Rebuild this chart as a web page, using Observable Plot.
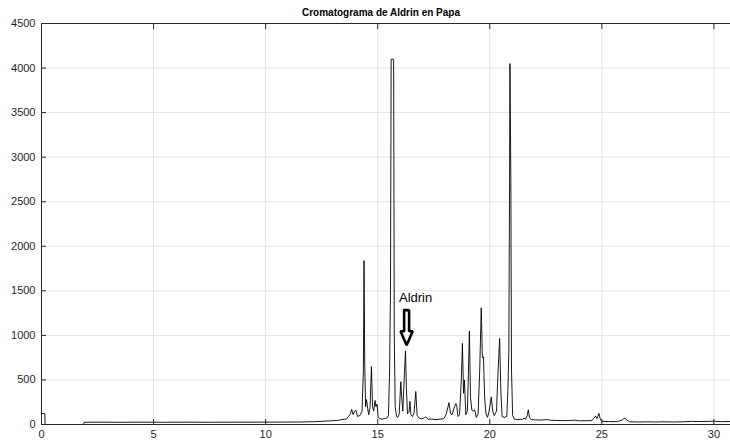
<!DOCTYPE html>
<html><head><meta charset="utf-8">
<script src="https://cdn.jsdelivr.net/npm/d3@7"></script>
<script src="https://cdn.jsdelivr.net/npm/@observablehq/plot@0.6"></script>
<style>body{margin:0;background:#fff}</style>
</head><body><div id="chart"></div>
<script>
const title = "Cromatograma de Aldrin en Papa";
const xTicks = [0, 5, 10, 15, 20, 25, 30];
const yTicks = [0, 500, 1000, 1500, 2000, 2500, 3000, 3500, 4000, 4500];

// retention time (min)
const time = [
  0, 0.15, 0.16, 1.88, 1.9, 2.5, 3.5, 4.5, 5.5, 6.5, 7.5, 8.5, 9.5, 10.5, 11.5, 12.2, 12.8, 13.2, 13.5,
  13.60, 13.70, 13.78, 13.84, 13.90, 13.97, 14.03, 14.10, 14.20, 14.30, 14.36, 14.39, 14.42, 14.46, 14.50,
  14.55, 14.60, 14.66, 14.72, 14.77, 14.82, 14.88, 14.92, 14.97, 15.02, 15.10, 15.20, 15.30, 15.40, 15.48,
  15.53, 15.57, 15.60, 15.71, 15.74, 15.78, 15.84, 15.90, 15.96, 16.03, 16.07, 16.12, 16.18, 16.24, 16.28,
  16.33, 16.40, 16.44, 16.48, 16.55, 16.62, 16.70, 16.76, 16.85, 16.95, 17.05, 17.14, 17.25, 17.40, 17.60,
  17.80, 17.95, 18.05, 18.18, 18.25, 18.32, 18.40, 18.49, 18.53, 18.58, 18.65, 18.73, 18.78, 18.83, 18.87,
  18.93, 19.00, 19.05, 19.09, 19.14, 19.20, 19.26, 19.33, 19.40, 19.48, 19.55, 19.62, 19.67, 19.72, 19.77,
  19.83, 19.90, 19.97, 20.07, 20.13, 20.20, 20.30, 20.37, 20.44, 20.49, 20.55, 20.65, 20.76, 20.81, 20.85,
  20.88, 20.90, 20.94, 20.97, 21.02, 21.10, 21.25, 21.38, 21.45, 21.53, 21.60, 21.67, 21.72, 21.77, 21.85,
  22.0, 22.3, 22.57, 22.7, 23.0, 23.4, 23.83, 23.95, 24.3, 24.55, 24.65, 24.72, 24.78, 24.87, 24.93, 25.0,
  25.3, 25.7, 25.95, 26.02, 26.10, 26.25, 26.6, 27.0, 27.4, 27.8, 28.2, 28.6, 29.0, 29.4, 29.8, 30.0, 30.3, 30.74
];
// detector signal
const signal = [
  125, 120, 0, 0, 25, 26, 25, 26, 25, 26, 25, 26, 26, 27, 28, 32, 40, 45, 60,
  60, 90, 120, 170, 110, 150, 160, 90, 100, 150, 600, 1840, 700, 200, 280,
  180, 110, 200, 650, 200, 150, 270, 200, 230, 80, 65, 60, 65, 70, 100,
  600, 1500, 4100, 4100, 1000, 200, 90, 80, 120, 480, 300, 150, 500, 826, 400,
  120, 150, 260, 110, 90, 130, 370, 100, 70, 65, 70, 85, 60, 60, 55,
  60, 65, 110, 245, 120, 110, 180, 235, 200, 90, 110, 500, 910, 350, 500,
  110, 150, 600, 1050, 300, 160, 150, 165, 80, 120, 600, 1310, 750, 760, 300,
  120, 80, 150, 310, 150, 100, 150, 600, 965, 400, 90, 80, 90, 400, 800,
  2500, 4050, 2750, 600, 100, 60, 55, 60, 55, 70, 60, 100, 165, 80, 55,
  52, 50, 55, 48, 45, 44, 48, 42, 42, 45, 70, 95, 65, 125, 60, 35,
  33, 32, 55, 75, 50, 30, 28, 30, 28, 30, 28, 30, 35, 33, 35, 38, 32, 34
];

// annotation
const labelText = ["Aldrin"];
const labelT = [15.95];
const labelV = [1420];
const arrowCenter = 16.29;
const arrowDx = [-0.11, 0.11, 0.11, 0.27, 0, -0.27, -0.11, -0.11];
const arrowV = [1283, 1283, 1046, 1046, 890, 1046, 1046, 1283];

const data = time.map((t, i) => ({t, v: signal[i]}));
const labels = labelText.map((s, i) => ({t: labelT[i], v: labelV[i], s}));
const arrow = arrowDx.map((d, i) => ({t: arrowCenter + d, v: arrowV[i]}));

const font = '"Liberation Sans", Arial, Helvetica, sans-serif';
const axisColor = "#262626";
const gridColor = "#e3e3e3";
const plain = d => String(d);
const blank = () => "";

const plot = Plot.plot({
  width: 730, height: 444,
  marginLeft: 41, marginRight: 0, marginTop: 23, marginBottom: 20,
  style: {fontFamily: font, fontSize: "11px", color: axisColor, background: "#fff"},
  x: {domain: [0, 30.74], label: null},
  y: {domain: [0, 4500], label: null},
  marks: [
    Plot.gridX(xTicks, {stroke: gridColor, strokeOpacity: 1}),
    Plot.gridY(yTicks, {stroke: gridColor, strokeOpacity: 1}),
    Plot.line(data, {x: "t", y: "v", stroke: "#000", strokeWidth: 0.9}),
    Plot.line(arrow, {x: "t", y: "v", stroke: "#000", strokeWidth: 2.6, strokeLinejoin: "miter"}),
    Plot.text(labels, {x: "t", y: "v", text: "s", textAnchor: "start", fontSize: 13, fill: "#000"}),
    Plot.ruleY([0, 4500], {stroke: axisColor, strokeWidth: 1}),
    Plot.ruleX([0], {stroke: axisColor, strokeWidth: 1}),
    Plot.axisX(xTicks, {anchor: "bottom", tickSize: 0, tickPadding: 6, fill: axisColor, tickFormat: plain, label: null}),
    Plot.axisY(yTicks, {anchor: "left", tickSize: 0, tickPadding: 6, fill: axisColor, tickFormat: plain, label: null}),
    Plot.axisX(xTicks, {anchor: "bottom", tickSize: 5, dy: -5, tickFormat: blank, stroke: axisColor, label: null}),
    Plot.axisX(xTicks, {anchor: "top", tickSize: 5, dy: 5, tickFormat: blank, stroke: axisColor, label: null}),
    Plot.axisY(yTicks, {anchor: "left", tickSize: 5, dx: 5, tickFormat: blank, stroke: axisColor, label: null}),
    Plot.text([title], {text: d => d, frameAnchor: "top", dy: -15, dx: -5, fontWeight: "bold", fontSize: 10, fill: "#000"})
  ]
});
document.getElementById("chart").append(plot);
</script>
</body></html>
